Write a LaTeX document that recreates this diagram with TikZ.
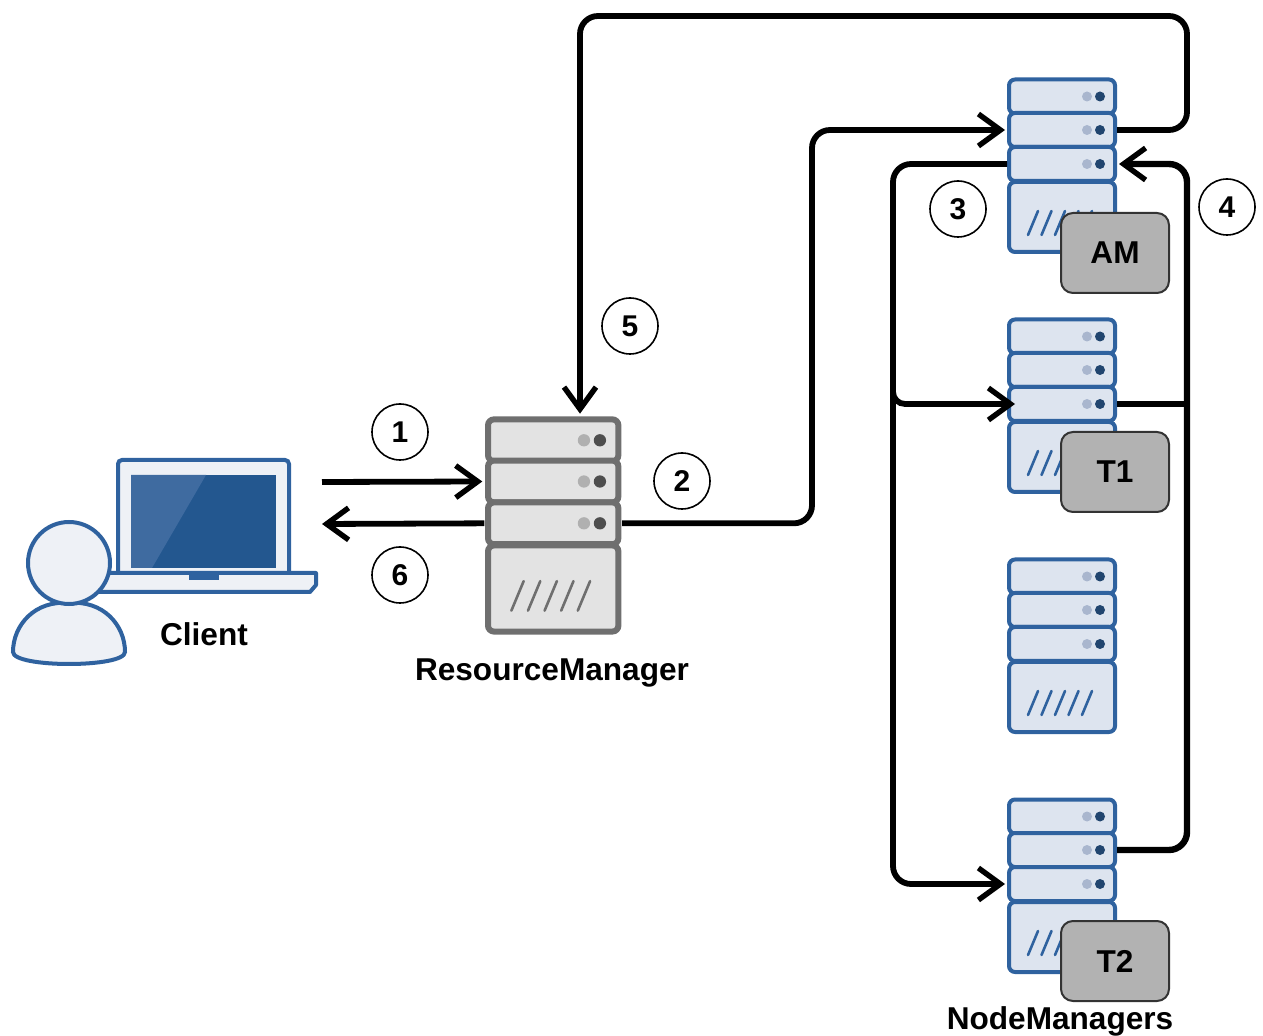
\documentclass[tikz,border=0pt]{standalone}
\usepackage{fontspec}
\setmainfont{Liberation Sans}
\usetikzlibrary{arrows.meta}
\definecolor{nmedge}{HTML}{2F629F}
\definecolor{nmfill}{HTML}{DDE4EF}
\definecolor{nmdot}{HTML}{A9B6CE}
\definecolor{rmedge}{HTML}{6F6F6F}
\definecolor{rmfill}{HTML}{E3E3E3}
\definecolor{rmdot}{HTML}{B0B0B0}
\definecolor{screendark}{HTML}{23578F}
\definecolor{screenlight}{HTML}{3F6BA0}
\definecolor{personfill}{HTML}{EEF1F6}
\tikzset{
unit/.style={draw,inner sep=0pt,minimum width=53pt,rounded corners=3pt},
flow/.style={line width=2.9pt,rounded corners=9pt,-{Straight Barb[length=11pt,width=16pt,line width=2.7pt]},shorten >=1pt},
numcircle/.style={draw,circle,line width=.8pt,minimum size=28pt,inner sep=0pt,font=\bfseries\fontsize{15}{16}\selectfont},
lbl/.style={font=\bfseries\fontsize{15.8}{18}\selectfont},
task/.style={draw=black!80,fill=black!30,line width=1pt,rounded corners=6pt,minimum width=54pt,minimum height=40pt,inner sep=0pt,font=\bfseries\fontsize{15.8}{18}\selectfont}
}
% #1 name, #2 x, #3 y, #4 scale, #5 edge, #6 fill, #7 dot, #8 line width
\newcommand{\rack}[8]{
\begin{scope}[shift={(#2,#3)},scale=#4,transform shape,every node/.append style={draw=#5,fill=#6,line width=#8}]
\node[unit,minimum height=17pt] (#1a) at (53,16.5) {};
\node[unit,minimum height=17pt] (#1b) at (53,50) {};
\node[unit,minimum height=17pt] (#1c) at (53,84) {};
\node[unit,minimum height=35pt] (#1d) at (53,137) {};
\foreach \y in {16.5,50,84}
{\fill[#7] (78,\y) circle (2.5pt);
\fill[#5!70!black] (91,\y) circle (2.5pt);}
\foreach \x in {0,...,4}
{\draw[#5,line width=1.3pt,line cap=round] (19+13.5*\x,155) -- (29+13.5*\x,131);}
\end{scope}
}
\begin{document}
\begin{tikzpicture}[x=0.5pt,y=-0.5pt]
\useasboundingbox (0,0) rectangle (1263,1036);
% laptop
\draw[nmedge,fill=personfill,line width=2pt,rounded corners=2pt] (118,572) -- (118,460) -- (289,460) -- (289,572);
\fill[screendark] (131,475) rectangle (276,568);
\fill[screenlight] (131,475) -- (206,475) -- (152,568) -- (131,568) -- cycle;
\draw[nmedge,fill=personfill,line width=2pt,line join=round] (95,573) -- (316,573) -- (316,585) -- (310,592) -- (95,592) -- cycle;
\fill[nmedge] (189,573) rectangle (219,580);
% person
\draw[nmedge,fill=personfill,line width=2pt] (69,603) .. controls (35,600) and (13,625) .. (13,652) .. controls (13,668) and (125,668) .. (125,652) .. controls (125,625) and (103,600) .. (69,603) -- cycle;
\draw[nmedge,fill=personfill,line width=2pt] (69,563) ellipse (41 and 41);
\node[lbl] (client) at (204,634) {Client};
% servers
\rack{rm}{488}{420}{1.23}{rmedge}{rmfill}{rmdot}{3pt}
\node[lbl] (rmlabel) at (552,673) {ResourceManager};
\rack{nma}{1009}{80}{1}{nmedge}{nmfill}{nmdot}{2pt}
\rack{nmb}{1009}{320}{1}{nmedge}{nmfill}{nmdot}{2pt}
\rack{nmc}{1009}{560}{1}{nmedge}{nmfill}{nmdot}{2pt}
\rack{nmd}{1009}{800}{1}{nmedge}{nmfill}{nmdot}{2pt}
\node[task] (am) at (1115,253) {AM};
\node[task] (t1) at (1115,472) {T1};
\node[task] (t2) at (1115,961) {T2};
\node[lbl] (nmlabel) at (1060,1021) {NodeManagers};
% steps
\node[numcircle] (n1) at (400,432) {1};
\node[numcircle] (n2) at (682,481) {2};
\node[numcircle] (n3) at (958,209) {3};
\node[numcircle] (n4) at (1227,207) {4};
\node[numcircle] (n5) at (630,326) {5};
\node[numcircle] (n6) at (400,575) {6};
% connectors
\coordinate (clientout) at (322,482);
\coordinate (clientin) at (320,524);
\coordinate (up) at (812,130);
\coordinate (topright) at (1187,16);
\coordinate (topleft) at (580,16);
\coordinate (leftbus) at (893,884);
\coordinate (rightbus) at (1187,164);
\coordinate (leftstart) at (893,360);
\coordinate (rightjoin) at (1187,404);
\draw[flow] (clientout) -- (rmb.west);
\draw[flow] (rmc.west) -- (clientin);
\draw[flow] (rmc.east) -| (up) -- (nmab.west);
\draw[flow] (nmab.east) -| (topright) -- (topleft) -- (rma.north -| topleft);
\draw[flow] (nmac.west) -| (leftbus) -- (nmdc.west);
\draw[flow,rounded corners=6pt] (leftstart) |- ([xshift=5pt]nmbc.west);
\draw[flow,line width=3.2pt] (nmdb.east) -| (rightbus) -- (nmac.east);
\draw[line width=2.9pt] (nmbc.east) -- (rightjoin);
\end{tikzpicture}
\end{document}
